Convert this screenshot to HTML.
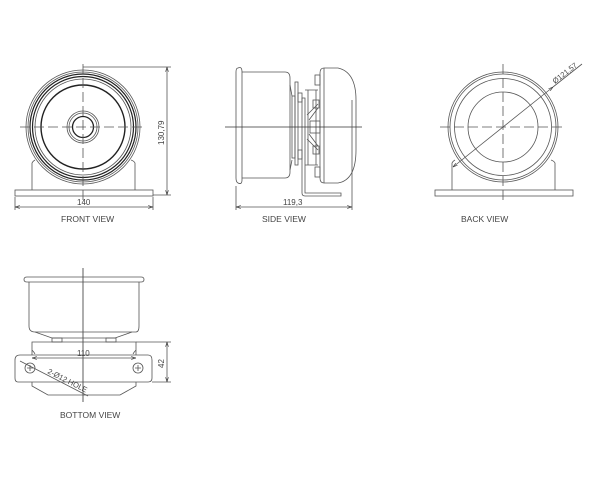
<!DOCTYPE html>
<html><head><meta charset="utf-8"><style>
html,body{margin:0;padding:0;background:#fff;width:600px;height:480px;overflow:hidden}
svg{display:block}
text{font-family:"Liberation Sans",sans-serif;fill:#444}
</style></head><body>
<svg width="600" height="480" viewBox="0 0 600 480" xmlns="http://www.w3.org/2000/svg">
<defs>
<marker id="a" viewBox="0 0 10 10" refX="10" refY="5" markerWidth="6" markerHeight="6" orient="auto-start-reverse"><path d="M0,2 L10,5 L0,8" fill="none" stroke="#333" stroke-width="1.2"/></marker>
</defs>
<g fill="none" stroke="#555" stroke-width="0.8">
<!-- FRONT VIEW -->
<circle cx="83" cy="127" r="57"/>
<circle cx="83" cy="127" r="55"/>
<circle cx="83" cy="127" r="53" stroke="#222" stroke-width="1.2"/>
<circle cx="83" cy="127" r="50.5" stroke="#222" stroke-width="1.2"/>
<circle cx="83" cy="127" r="48"/>
<circle cx="83" cy="127" r="42" stroke="#222" stroke-width="1.4"/>
<circle cx="83" cy="127" r="16"/>
<circle cx="83" cy="127" r="14"/>
<circle cx="83" cy="127" r="10.5" stroke="#222" stroke-width="1.3"/>
<line x1="20" y1="127" x2="146" y2="127" stroke-dasharray="10,4"/>
<line x1="83" y1="64" x2="83" y2="200" stroke-dasharray="10,4"/>
<path d="M32,190 V163 Q33,161 35,160 M135,190 V163 Q134,161 131,160"/>
<rect x="15" y="190" width="138" height="6"/>
<line x1="83" y1="67" x2="171" y2="67"/>
<line x1="153" y1="195" x2="171" y2="195"/>
<line x1="167" y1="67" x2="167" y2="195" marker-start="url(#a)" marker-end="url(#a)"/>
<line x1="15" y1="197" x2="15" y2="210"/><line x1="153" y1="197" x2="153" y2="210"/>
<line x1="15" y1="207" x2="153" y2="207" marker-start="url(#a)" marker-end="url(#a)"/>

<!-- SIDE VIEW -->
<path d="M238,68 Q242,66 242,72 V180 Q242,185 238,183 Q236,182 236,178 V72 Q236,68 238,68 Z"/>
<path d="M242,72 H285 Q290,72 290,78 V172 Q290,178 285,178 H242"/>
<path d="M290,85 L292,96 M290,170 L292,160"/>
<rect x="292" y="96" width="3" height="62"/>
<rect x="295" y="82" width="3" height="83"/>
<rect x="298" y="93" width="4" height="9"/><rect x="298" y="150" width="4" height="9"/>
<path d="M302,98 V193 Q302,196 305,196 H341 V193 H305 V98 Z"/>
<path d="M305,90 H318 M305,165 H318 M308,90 V165 M316,90 V165"/>
<rect x="315" y="75" width="5" height="10"/><rect x="315" y="167" width="5" height="10"/>
<rect x="313" y="100" width="6" height="8"/><rect x="313" y="146" width="6" height="8"/>
<rect x="310" y="121" width="10" height="12"/>
<path d="M309,120 L318,108 M309,134 L318,146 M307,115 L318,104 M307,139 L318,150" />
<path d="M324,68 H338 Q356,72 356,100 V150 Q356,180 338,183 H324 Q320,183 320,178 V73 Q320,68 324,68 Z"/>
<line x1="324" y1="68" x2="324" y2="183"/>
<line x1="225" y1="127" x2="362" y2="127" stroke="#333"/>
<line x1="236" y1="186" x2="236" y2="210"/><line x1="352" y1="100" x2="352" y2="210"/>
<line x1="236" y1="207" x2="352" y2="207" marker-start="url(#a)" marker-end="url(#a)"/>

<!-- BACK VIEW -->
<circle cx="503" cy="127" r="55"/>
<circle cx="503" cy="127" r="53"/>
<circle cx="503" cy="127" r="48.5"/>
<circle cx="503" cy="127" r="35"/>
<line x1="440" y1="127" x2="566" y2="127" stroke-dasharray="10,4"/>
<line x1="503" y1="64" x2="503" y2="200" stroke-dasharray="10,4"/>
<path d="M452,190 V163 Q453,161 455,160 M555,190 V163 Q554,161 551,160"/>
<rect x="435" y="190" width="138" height="6"/>
<line x1="453" y1="167" x2="553" y2="87" marker-start="url(#a)" marker-end="url(#a)"/>
<line x1="553" y1="87" x2="582" y2="64"/>

<!-- BOTTOM VIEW -->
<line x1="83" y1="268" x2="83" y2="402" stroke="#333"/>
<path d="M27,277 H141 Q144,277 144,279.5 Q144,282 141,282 H27 Q24,282 24,279.5 Q24,277 27,277 Z"/>
<path d="M29,282 V326 Q29,332 35,332 H136 Q139,332 139,326 V282"/>
<path d="M35,332 L52,338 H115 L132,332"/>
<rect x="52" y="338" width="10" height="4"/><rect x="106" y="338" width="10" height="4"/>
<path d="M32,355 V342 H136 V355 M32,350 Q34,352 35,354 M136,350 Q134,352 133,354"/>
<path d="M20,355 H148 Q152,355 152,360 V378 Q152,382 148,382 H18 Q15,382 15,378 V360 Q15,355 20,355 Z"/>
<path d="M32,382 V386 L48,395 H120 L136,386 V382"/>
<circle cx="30" cy="368" r="5"/><circle cx="138" cy="368" r="5"/>
<path d="M27,368 H33 M30,365 V371 M135,368 H141 M138,365 V371"/>
<line x1="32" y1="358" x2="136" y2="358" marker-start="url(#a)" marker-end="url(#a)"/>
<line x1="136" y1="342" x2="171" y2="342"/><line x1="152" y1="382" x2="171" y2="382"/>
<line x1="167" y1="342" x2="167" y2="382" marker-start="url(#a)" marker-end="url(#a)"/>
<line x1="20" y1="361" x2="88" y2="396"/>
</g>
<g font-size="8">
<text x="77" y="205">140</text>
<text x="0" y="0" transform="translate(164,145) rotate(-90)">130,79</text>
<text x="283" y="205">119,3</text>
<text x="0" y="0" transform="translate(555,84) rotate(-38)" font-size="7.5">Ø121,57</text>
<text x="77" y="356">110</text>
<text x="0" y="0" transform="translate(164,368) rotate(-90)">42</text>
<text x="0" y="0" transform="translate(47,373) rotate(27)" font-size="7.5">2-Ø12 HOLE</text>
</g>
<g font-size="8.5">
<text x="61" y="222">FRONT VIEW</text>
<text x="262" y="222">SIDE VIEW</text>
<text x="461" y="222">BACK VIEW</text>
<text x="60" y="418">BOTTOM VIEW</text>
</g>
</svg>
</body></html>
